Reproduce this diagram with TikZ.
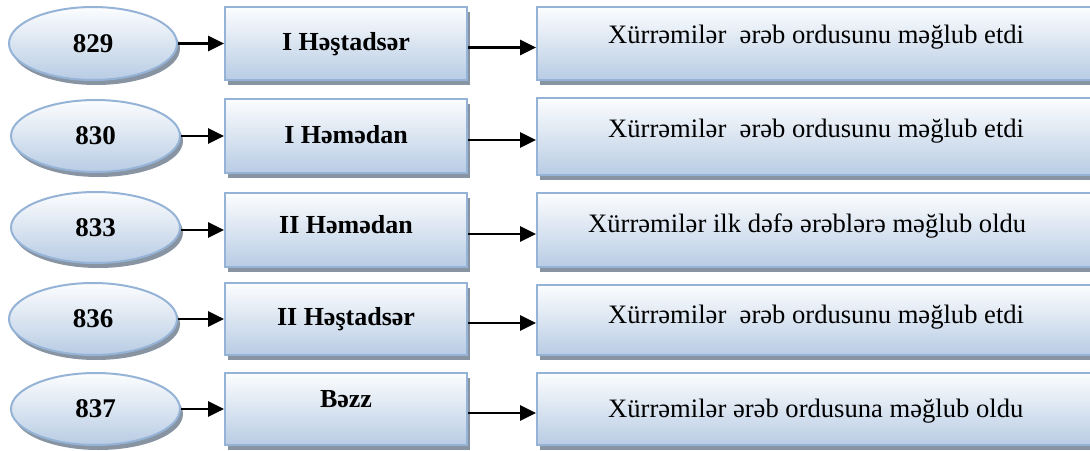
\documentclass[tikz,border=0pt]{standalone}
\usepackage{fontspec}
\setmainfont{Liberation Serif}
\usetikzlibrary{shapes.geometric,shadows,arrows.meta}
\definecolor{bordc}{RGB}{149,179,215}
\definecolor{botc}{RGB}{184,204,228}
\definecolor{topc}{RGB}{252,253,254}
\definecolor{shadc}{RGB}{136,148,162}
\tikzset{
  base/.style={draw=bordc, line width=2pt, top color=topc, bottom color=botc,
    drop shadow={shadow xshift=3pt, shadow yshift=-5pt, fill=shadc, opacity=1}},
  yearnode/.style={base, ellipse, inner sep=0pt, font=\fontsize{27}{30}\selectfont\bfseries},
  placebox/.style={base, rectangle, inner sep=0pt, minimum width=242pt},
  resbox/.style={base, rectangle, inner sep=0pt, minimum width=603pt},
  placetext/.style={anchor=base, inner sep=0pt, font=\fontsize{26}{30}\selectfont\bfseries},
  restext/.style={anchor=base west, inner sep=0pt, font=\fontsize{26.6}{30}\selectfont},
  arr/.style={line width=2.8pt, -{Triangle[length=16pt,width=15pt]}},
}
\begin{document}
\begin{tikzpicture}[x=1pt,y=-1pt]
\useasboundingbox (0,0) rectangle (1090,450);
\clip (0,0) rectangle (1090,450);

% Row 1
\node[yearnode, minimum width=168pt, minimum height=73pt] (e1) at (93,43.5) {829};
\node[placebox, minimum height=73pt] (p1) at (346,43.5) {};
\node[resbox, minimum height=73pt] (r1) at (838.5,43.5) {};
\node[placetext] (l1) at (346,50) {I Həştadsər};
\node[restext] (t1) at (608,43) {Xürrəmilər\ \ ərəb ordusunu məğlub etdi};

% Row 2
\node[yearnode, minimum width=169pt, minimum height=72pt] (e2) at (95.5,136) {830};
\node[placebox, minimum height=74pt] (p2) at (346,136) {};
\node[resbox, minimum height=77pt] (r2) at (838.5,136.5) {};
\node[placetext] (l2) at (346,143) {I Həmədan};
\node[restext] (t2) at (608,137) {Xürrəmilər\ \ ərəb ordusunu məğlub etdi};

% Row 3
\node[yearnode, minimum width=169pt, minimum height=71pt] (e3) at (95.5,227.5) {833};
\node[placebox, minimum height=74pt] (p3) at (346,230) {};
\node[resbox, minimum height=74pt] (r3) at (838.5,230) {};
\node[placetext] (l3) at (346,233) {II Həmədan};
\node[restext] (t3) at (588,232) {Xürrəmilər ilk dəfə ərəblərə məğlub oldu};

% Row 4
\node[yearnode, minimum width=168pt, minimum height=72pt] (e4) at (93,319) {836};
\node[placebox, minimum height=72pt] (p4) at (346,319) {};
\node[resbox, minimum height=70pt] (r4) at (838.5,320) {};
\node[placetext] (l4) at (346,325) {II Həştadsər};
\node[restext] (t4) at (608,323) {Xürrəmilər\ \ ərəb ordusunu məğlub etdi};

% Row 5
\node[yearnode, minimum width=169pt, minimum height=72pt] (e5) at (95.5,409) {837};
\node[placebox, minimum height=72pt] (p5) at (346,409) {};
\node[resbox, minimum height=72pt] (r5) at (838.5,409) {};
\node[placetext] (l5) at (346,407) {Bəzz};
\node[restext] (t5) at (608,417) {Xürrəmilər ərəb ordusuna məğlub oldu};

% Arrows
\foreach \i in {1,...,5}{
  \draw[arr] (e\i.east |- p\i.west) -- (p\i.west);
  \draw[arr] ([yshift=-4pt]p\i.east) -- ([yshift=-4pt]p\i.east -| r\i.west);
}
\end{tikzpicture}
\end{document}
